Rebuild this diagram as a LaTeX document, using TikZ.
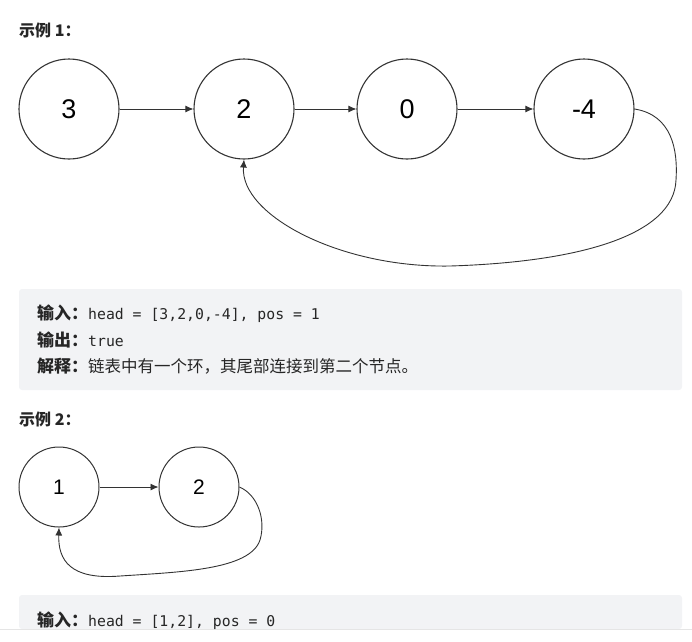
\documentclass[tikz,border=0pt]{standalone}
\usepackage{fontspec}
\setmainfont{Liberation Sans}
\setmonofont{DejaVu Sans Mono}
\newfontfamily\cjk{Noto Sans CJK SC}
\usetikzlibrary{arrows.meta}
\definecolor{boxgray}{HTML}{F2F3F5}
\definecolor{txt}{HTML}{262626}
\definecolor{edge}{HTML}{333333}
\tikzset{
  bignode/.style={draw=edge, line width=1.1pt, circle, minimum size=100pt, inner sep=0pt, font=\fontsize{27}{27}\selectfont},
  smallnode/.style={draw=edge, line width=1pt, circle, minimum size=80pt, inner sep=0pt, font=\fontsize{21}{21}\selectfont},
  link/.style={draw=edge, line width=0.9pt, -{Latex[length=8pt,width=7pt]}},
  heading/.style={anchor=west, inner sep=0pt, text=txt, font=\cjk\bfseries\fontsize{16}{16}\selectfont},
  line/.style={anchor=west, inner sep=0pt, text=txt, font=\fontsize{14.8}{14.8}\selectfont}
}
\newcommand{\key}[1]{{\cjk\bfseries\fontsize{17}{17}\selectfont #1}}
\newcommand{\val}[1]{{\ttfamily #1}}
\begin{document}
\begin{tikzpicture}[x=1pt,y=-1pt]
\useasboundingbox (0,0) rectangle (692,641);
% example 1
\node[heading] (h1) at (19,30) {示例 1：};
\node[bignode] (a) at (69,109) {3};
\node[bignode] (b) at (244,109) {2};
\node[bignode] (c) at (407,109) {0};
\node[bignode] (d) at (584,109) {-4};
\path[link] (a) -- (b);
\path[link] (b) -- (c);
\path[link] (c) -- (d);
\path[link] (d.east) .. controls (672,115) and (678,150) .. (676,180)
  .. controls (674,235) and (580,262) .. (450,266)
  .. controls (340,268) and (240,215) .. (b.south);
\fill[boxgray, rounded corners=3pt] (19,289) rectangle (682,390);
\node[line] (in1) at (37,314) {\key{输入：}\val{head = [3,2,0,-4], pos = 1}};
\node[line] (out1) at (37,340) {\key{输出：}\val{true}};
\node[line] (ex1) at (37,366) {\key{解释：}{\cjk\fontsize{16.5}{16.5}\selectfont 链表中有一个环，其尾部连接到第二个节点。}};
% example 2
\node[heading] (h2) at (19,419) {示例 2：};
\node[smallnode] (p) at (59,487) {1};
\node[smallnode] (q) at (199,487) {2};
\path[link] (p) -- (q);
\path[link] (q.east) .. controls (258,495) and (266,520) .. (260,540)
  .. controls (250,570) and (180,572) .. (120,576)
  .. controls (70,580) and (58,560) .. (p.south);
\fill[boxgray, rounded corners=3pt] (19,595) rectangle (682,629);
\draw[black!10] (0,629) -- (692,629);
\node[line] (in2) at (37,621) {\key{输入：}\val{head = [1,2], pos = 0}};
\end{tikzpicture}
\end{document}
